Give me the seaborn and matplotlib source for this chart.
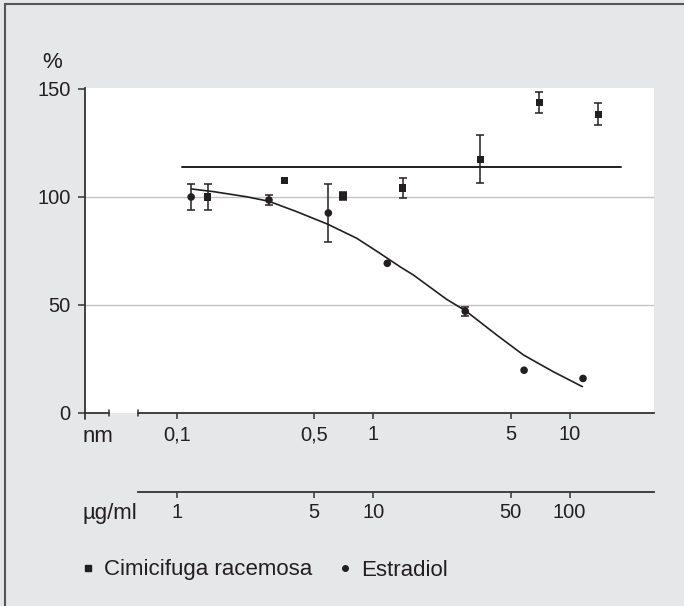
import matplotlib
matplotlib.use("Agg")
import matplotlib.pyplot as plt
from matplotlib.lines import Line2D
from matplotlib.ticker import NullLocator
import seaborn as sns

# Cimicifuga racemosa (nm-Skala, 1 nm-Einheit = 10 µg/ml)
cimi_x = [0.143, 0.352, 0.701, 1.41, 3.51, 7.01, 14.0]
cimi_y = [100, 107.7, 100.5, 104.2, 117.5, 143.8, 138.3]
cimi_err = [6, 0, 2, 4.6, 11, 5, 5]

# Estradiol
estr_x = [0.118, 0.294, 0.590, 1.178, 2.94, 5.86, 11.7]
estr_y = [100, 98.6, 92.6, 69.3, 47.1, 19.8, 16]
estr_err = [6, 2.4, 13.6, 0, 2, 0, 0]

# angepasste Kurve für Estradiol
curve_x = [0.1188, 0.1531, 0.2265, 0.2943, 0.4073, 0.586, 0.823, 1.082,
           1.368, 1.599, 2.365, 2.943, 4.253, 5.81, 8.26, 11.61]
curve_y = [103.7, 102.5, 100.1, 98.0, 93.2, 87.4, 80.9, 73.9,
           67.7, 63.9, 52.6, 47.4, 36.1, 26.9, 19.1, 12.2]

# Mittelwertlinie Cimicifuga
mean_x = [0.106, 18.2]
mean_y = [114, 114]

nm_ticks = [0.1, 0.5, 1, 5, 10]
nm_labels = ["0,1", "0,5", "1", "5", "10"]
ug_ticks = [1, 5, 10, 50, 100]
ug_labels = ["1", "5", "10", "50", "100"]
y_ticks = [0, 50, 100, 150]
grid_vals = [50, 100]

ink = "#231f20"
bg = "#e6e7e8"
num_fs = 14.5
txt_fs = 16

sns.set_theme(style="white")
plt.rcParams["font.family"] = ["Liberation Sans", "DejaVu Sans"]
plt.rcParams["text.color"] = ink
plt.rcParams["xtick.color"] = ink
plt.rcParams["ytick.color"] = ink

W, H = 684, 606
fig = plt.figure(figsize=(6.84, 6.06), dpi=100, facecolor=bg)

x0, x1 = 0.0341, 26.9
ax = fig.add_axes([85.3 / W, 1 - 413 / H, (654 - 85.3) / W, (413 - 87.7) / H])
ax.set_facecolor("white")
ax.set_xscale("log")
ax.set_xlim(x0, x1)
ax.set_ylim(0, 150.6)

for g in grid_vals:
    ax.axhline(g, color="#c2c2c2", lw=1.0, zorder=1)

# Linien
sns.lineplot(x=mean_x, y=mean_y, ax=ax, color=ink, lw=1.4, estimator=None, sort=False, zorder=3)
sns.lineplot(x=curve_x, y=curve_y, ax=ax, color=ink, lw=1.2, estimator=None, sort=False, zorder=3)

# Fehlerbalken (nur wo vorhanden)
for xs, ys, es in [(cimi_x, cimi_y, cimi_err), (estr_x, estr_y, estr_err)]:
    for xv, yv, ev in zip(xs, ys, es):
        if ev > 0:
            ax.errorbar(xv, yv, yerr=ev, fmt="none", ecolor=ink, elinewidth=1.1,
                        capsize=2.9, capthick=1.1, zorder=4)

sns.scatterplot(x=cimi_x, y=cimi_y, ax=ax, marker="s", s=28, color=ink,
                edgecolor="none", linewidth=0, zorder=5)
sns.scatterplot(x=estr_x, y=estr_y, ax=ax, marker="o", s=30, color=ink,
                edgecolor="none", linewidth=0, zorder=5)

# Achsen
for side in ["top", "right"]:
    ax.spines[side].set_visible(False)
ax.spines["left"].set_color("#333333")
ax.spines["left"].set_linewidth(1.3)
ax.spines["bottom"].set_color("#333333")
ax.spines["bottom"].set_linewidth(1.3)
brk0, brk1 = 0.045, 0.0635
ax.spines["bottom"].set_bounds(brk1, x1)
ax.plot([x0, brk0], [0, 0], color="#333333", lw=1.3, clip_on=False, zorder=6)
ax.plot([brk0, brk0], [-1.4, 1.4], color="#333333", lw=1.1, clip_on=False, zorder=6)
ax.plot([brk1, brk1], [-1.4, 1.4], color="#333333", lw=1.1, clip_on=False, zorder=6)
ax.plot([x0, x0], [0, -2.8], color="#333333", lw=1.3, clip_on=False, zorder=6)

ax.set_yticks(y_ticks)
ax.set_yticklabels([str(v) for v in y_ticks])
ax.set_xticks(nm_ticks)
ax.set_xticklabels(nm_labels)
ax.xaxis.set_minor_locator(NullLocator())
ax.tick_params(axis="y", direction="out", length=5.2, width=1.1, pad=5.5,
               labelsize=num_fs, left=True, color="#333333")
ax.tick_params(axis="x", direction="out", length=4.3, width=1.1, pad=4.5,
               labelsize=num_fs, bottom=True, color="#333333")

# zweite Achse µg/ml
ax2 = fig.add_axes([85.3 / W, 1 - 491.7 / H, (654 - 85.3) / W, 0.0001])
ax2.patch.set_visible(False)
ax2.set_xscale("log")
ax2.set_xlim(x0 * 10, x1 * 10)
for side in ["top", "right", "left"]:
    ax2.spines[side].set_visible(False)
ax2.spines["bottom"].set_color("#333333")
ax2.spines["bottom"].set_linewidth(1.3)
ax2.spines["bottom"].set_bounds(brk1 * 10, x1 * 10)
ax2.set_yticks([])
ax2.set_xticks(ug_ticks)
ax2.set_xticklabels(ug_labels)
ax2.xaxis.set_minor_locator(NullLocator())
ax2.tick_params(axis="x", direction="out", length=4.3, width=1.1, pad=4,
                labelsize=num_fs, bottom=True, color="#333333")

fig.text(83 / W, 1 - 436.7 / H, "nm", ha="left", va="center", fontsize=txt_fs)
fig.text(83 / W, 1 - 513 / H, "µg/ml", ha="left", va="center", fontsize=txt_fs)
fig.text(52 / W, 1 - 63 / H, "%", ha="center", va="center", fontsize=txt_fs)

handles = [
    Line2D([], [], marker="s", ls="none", color=ink, markersize=4, label="Cimicifuga racemosa"),
    Line2D([], [], marker="o", ls="none", color=ink, markersize=4, label="Estradiol"),
]
fig.legend(handles=handles, loc="center left", bbox_to_anchor=(80 / W, 1 - 570 / H),
           ncol=2, frameon=False, fontsize=txt_fs, handlelength=0.7, handletextpad=0.38,
           columnspacing=1.13, borderaxespad=0, borderpad=0)

# Rahmen links und oben
fig.add_artist(Line2D([5 / W, 5 / W], [0, 1 - 4 / H], transform=fig.transFigure, color="#555555", lw=1.5))
fig.add_artist(Line2D([5 / W, 1], [1 - 4 / H, 1 - 4 / H], transform=fig.transFigure, color="#555555", lw=1.5))

fig.savefig("out.png", dpi=100, facecolor=bg)
